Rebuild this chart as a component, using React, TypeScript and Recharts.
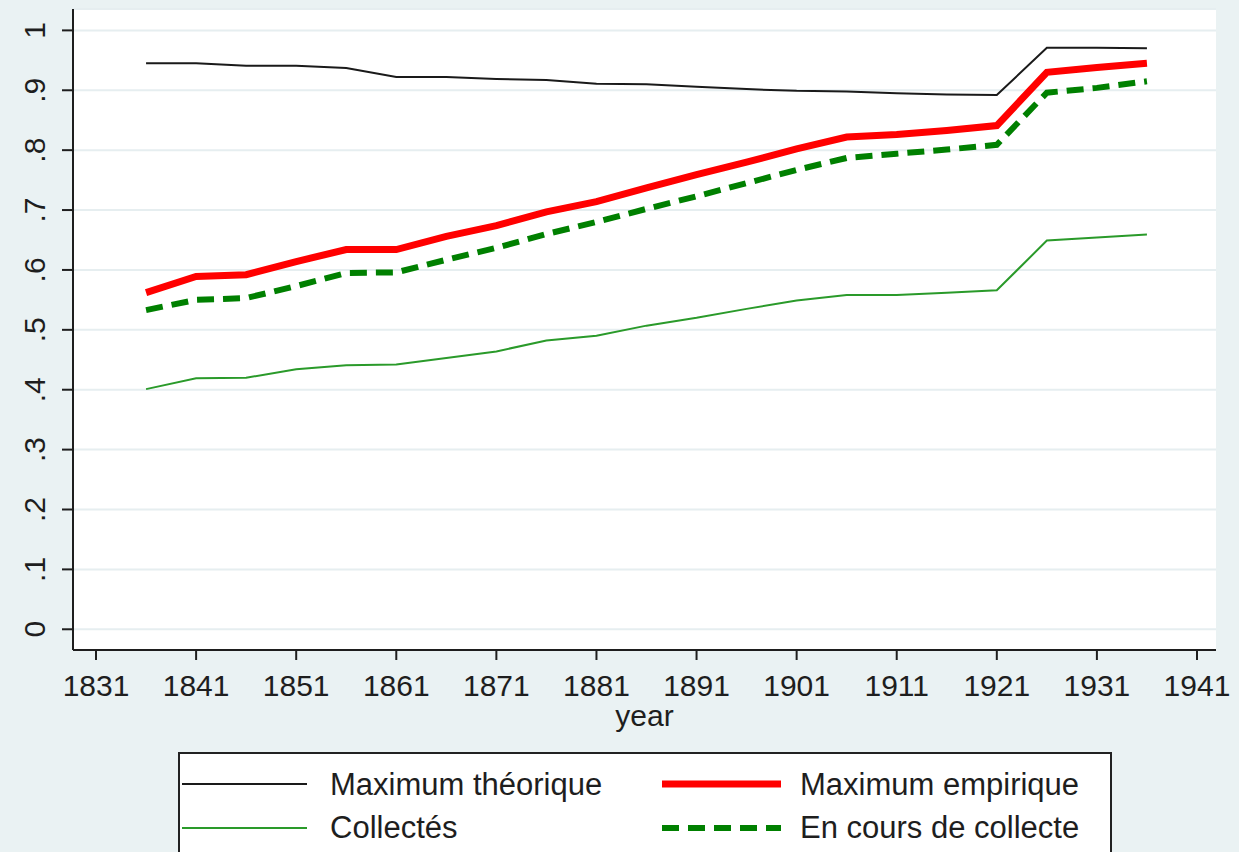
import { CartesianGrid, Legend, Line, LineChart, XAxis, YAxis } from "recharts"

const years = [1836, 1841, 1846, 1851, 1856, 1861, 1866, 1871, 1876, 1881, 1886, 1891, 1896, 1901, 1906, 1911, 1916, 1921, 1926, 1931, 1936]

const maxTheorique = [0.945, 0.945, 0.941, 0.941, 0.937, 0.922, 0.922, 0.919, 0.917, 0.911, 0.91, 0.906, 0.902, 0.899, 0.898, 0.895, 0.893, 0.892, 0.971, 0.971, 0.97]
const maxEmpirique = [0.562, 0.589, 0.592, 0.614, 0.634, 0.634, 0.656, 0.674, 0.697, 0.714, 0.737, 0.759, 0.78, 0.802, 0.822, 0.826, 0.833, 0.841, 0.93, 0.938, 0.945]
const collectes = [0.401, 0.419, 0.42, 0.434, 0.441, 0.442, 0.453, 0.464, 0.482, 0.49, 0.507, 0.52, 0.535, 0.549, 0.558, 0.558, 0.562, 0.566, 0.649, 0.654, 0.659]
const enCours = [0.533, 0.55, 0.553, 0.573, 0.595, 0.596, 0.617, 0.637, 0.66, 0.68, 0.702, 0.723, 0.745, 0.767, 0.787, 0.794, 0.801, 0.809, 0.896, 0.904, 0.915]

const xTicks = [1831, 1841, 1851, 1861, 1871, 1881, 1891, 1901, 1911, 1921, 1931, 1941]
const yTicks = [0, 0.1, 0.2, 0.3, 0.4, 0.5, 0.6, 0.7, 0.8, 0.9, 1]

const data = years.map((year, i) => ({
  year,
  theorique: maxTheorique[i],
  empirique: maxEmpirique[i],
  collectes: collectes[i],
  enCours: enCours[i],
}))

const series = [
  { key: "theorique", name: "Maximum théorique", color: "#1a1a1a", width: 2, dash: undefined },
  { key: "empirique", name: "Maximum empirique", color: "#ff0000", width: 7, dash: undefined },
  { key: "collectes", name: "Collectés", color: "#2a9a2a", width: 2, dash: undefined },
  { key: "enCours", name: "En cours de collecte", color: "#008000", width: 6, dash: "17 9" },
]

const FONT = '"Liberation Sans", Arial, sans-serif'
const INK = "#1e1e1e"

function fmtY(v: number) {
  if (v === 0) return "0"
  if (v === 1) return "1"
  return "." + Math.round(v * 10)
}

function YTick(props: any) {
  const { x, y, payload } = props
  const bx = x - 17
  return (
    <text x={bx} y={y} transform={`rotate(-90, ${bx}, ${y})`} textAnchor="middle" fontSize={30} fill={INK} fontFamily={FONT}>
      {fmtY(payload.value)}
    </text>
  )
}

function XTick(props: any) {
  const { x, y, payload } = props
  return (
    <text x={x} y={y + 36} textAnchor="middle" fontSize={30} fill={INK} fontFamily={FONT}>
      {payload.value}
    </text>
  )
}

function renderLegend() {
  // 2 x 2 grid: left column, right column
  const cols = [
    { lineX1: 4, lineX2: 129, textX: 152 },
    { lineX1: 484, lineX2: 603, textX: 622 },
  ]
  const rows = [
    { lineY: 32, textY: 43 },
    { lineY: 76, textY: 86 },
  ]
  return (
    <svg width={934} height={110} style={{ display: "block" }}>
      <rect x={1} y={1} width={932} height={140} fill="#ffffff" stroke="#222" strokeWidth={2} />
      {series.map((s, i) => {
        const c = cols[i % 2]
        const r = rows[Math.floor(i / 2)]
        return (
          <g key={s.key}>
            <line x1={c.lineX1} x2={c.lineX2} y1={r.lineY} y2={r.lineY} stroke={s.color} strokeWidth={s.width} strokeDasharray={s.dash} />
            <text x={c.textX} y={r.textY} fontSize={31} fill={INK} fontFamily={FONT}>
              {s.name}
            </text>
          </g>
        )
      })}
    </svg>
  )
}

export default function App() {
  return (
    <div
      style={{
        position: "absolute",
        left: 0,
        top: 0,
        width: 1239,
        height: 852,
        background: "#eaf2f3",
        overflow: "hidden",
        fontFamily: FONT,
      }}
    >
      <LineChart width={1239} height={852} data={data} margin={{ top: 9, right: 23, left: 0, bottom: 122 }}>
        <CartesianGrid vertical={false} stroke="#e6eef0" strokeWidth={2} fill="#ffffff" />
        <XAxis
          dataKey="year"
          type="number"
          domain={[1828.7, 1942.9]}
          allowDataOverflow
          ticks={xTicks}
          height={80}
          tickSize={10}
          tickMargin={0}
          tick={<XTick />}
          axisLine={{ stroke: INK, strokeWidth: 2 }}
          tickLine={{ stroke: INK, strokeWidth: 2 }}
          label={({ viewBox }: any) => (
            <text x={viewBox.x + viewBox.width / 2} y={viewBox.y + 76} textAnchor="middle" fontSize={30} fill={INK} fontFamily={FONT}>
              year
            </text>
          )}
        />
        <YAxis
          type="number"
          domain={[-0.0346, 1.0357]}
          allowDataOverflow
          ticks={yTicks}
          width={73}
          tickSize={11}
          tickMargin={0}
          tick={<YTick />}
          axisLine={{ stroke: INK, strokeWidth: 2 }}
          tickLine={{ stroke: INK, strokeWidth: 2 }}
        />
        <Legend
          layout="horizontal"
          verticalAlign="middle"
          align="center"
          wrapperStyle={{ left: 178, top: 752, width: 934, height: 110 }}
          content={renderLegend}
        />
        {series.map((s) => (
          <Line
            key={s.key}
            type="linear"
            dataKey={s.key}
            name={s.name}
            stroke={s.color}
            strokeWidth={s.width}
            strokeDasharray={s.dash}
            dot={false}
            activeDot={false}
            isAnimationActive={false}
          />
        ))}
      </LineChart>
    </div>
  )
}
